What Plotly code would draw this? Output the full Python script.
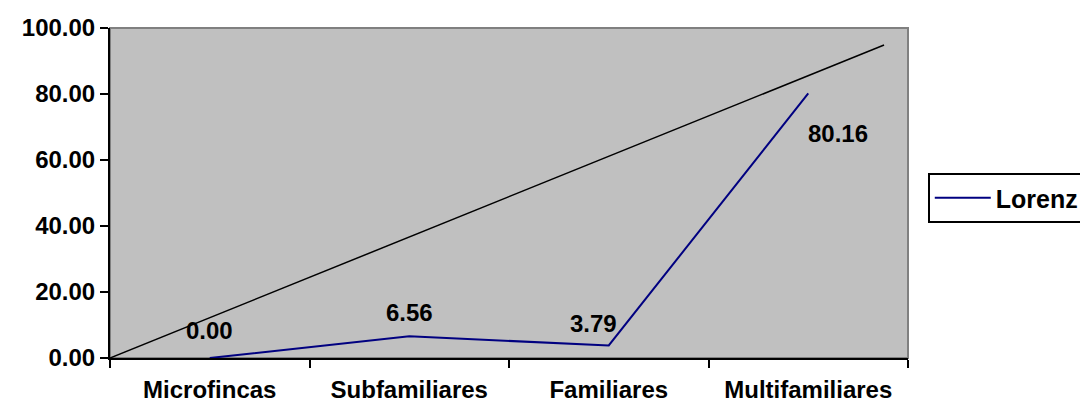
import plotly.graph_objects as go

categories = ["Microfincas", "Subfamiliares", "Familiares", "Multifamiliares"]
lorenz = [0.00, 6.56, 3.79, 80.16]
label_text = ["0.00", "6.56", "3.79", "80.16"]
diag_x = [-0.5, 3.38]
diag_y = [0.0, 94.85]
y_ticks = [0, 20, 40, 60, 80, 100]

FONT = dict(family="Liberation Sans, Arial, sans-serif", size=24, color="black", weight="bold")

fig = go.Figure()
fig.add_trace(go.Scatter(x=diag_x, y=diag_y, mode="lines", xaxis="x2",
                         line=dict(color="black", width=1.5), showlegend=False, hoverinfo="skip"))
fig.add_trace(go.Scatter(x=categories, y=lorenz, mode="lines", name="Lorenz",
                         line=dict(color="#000080", width=2)))

shifts = [(0, 28), (0, 24), (-15, 22), (30, -40)]
for c, v, t, (dx, dy) in zip(categories, lorenz, label_text, shifts):
    fig.add_annotation(x=c, y=v, text=t, showarrow=False, xshift=dx, yshift=dy, font=FONT)

fig.update_layout(
    width=1072, height=394,
    margin=dict(l=102, r=172, t=20, b=44),
    paper_bgcolor="white", plot_bgcolor="#C0C0C0",
    xaxis=dict(type="category", range=[-0.5, 3.5], showgrid=False, zeroline=False,
               showline=True, linecolor="black", linewidth=2, automargin=False,
               ticks="outside", tickson="boundaries", ticklen=8, tickwidth=2, tickcolor="black",
               tickfont=FONT, ticklabelstandoff=9),
    xaxis2=dict(overlaying="x", range=[-0.5, 3.5], visible=False),
    yaxis=dict(range=[0, 100], tickvals=y_ticks, tickformat=".2f", showgrid=False, zeroline=False,
               showline=True, linecolor="black", linewidth=2, automargin=False,
               ticks="outside", ticklen=8, tickwidth=2, tickcolor="black", tickfont=FONT),
    legend=dict(xref="container", yref="container", x=0.858, y=0.581,
                xanchor="left", yanchor="top", bgcolor="white",
                bordercolor="black", borderwidth=2, font=dict(FONT, size=25), itemwidth=56),
    shapes=[dict(type="rect", xref="paper", yref="paper", x0=0, x1=1, y0=0, y1=1,
                 line=dict(color="#808080", width=2), layer="below")],
)

fig.write_html("out.html")
